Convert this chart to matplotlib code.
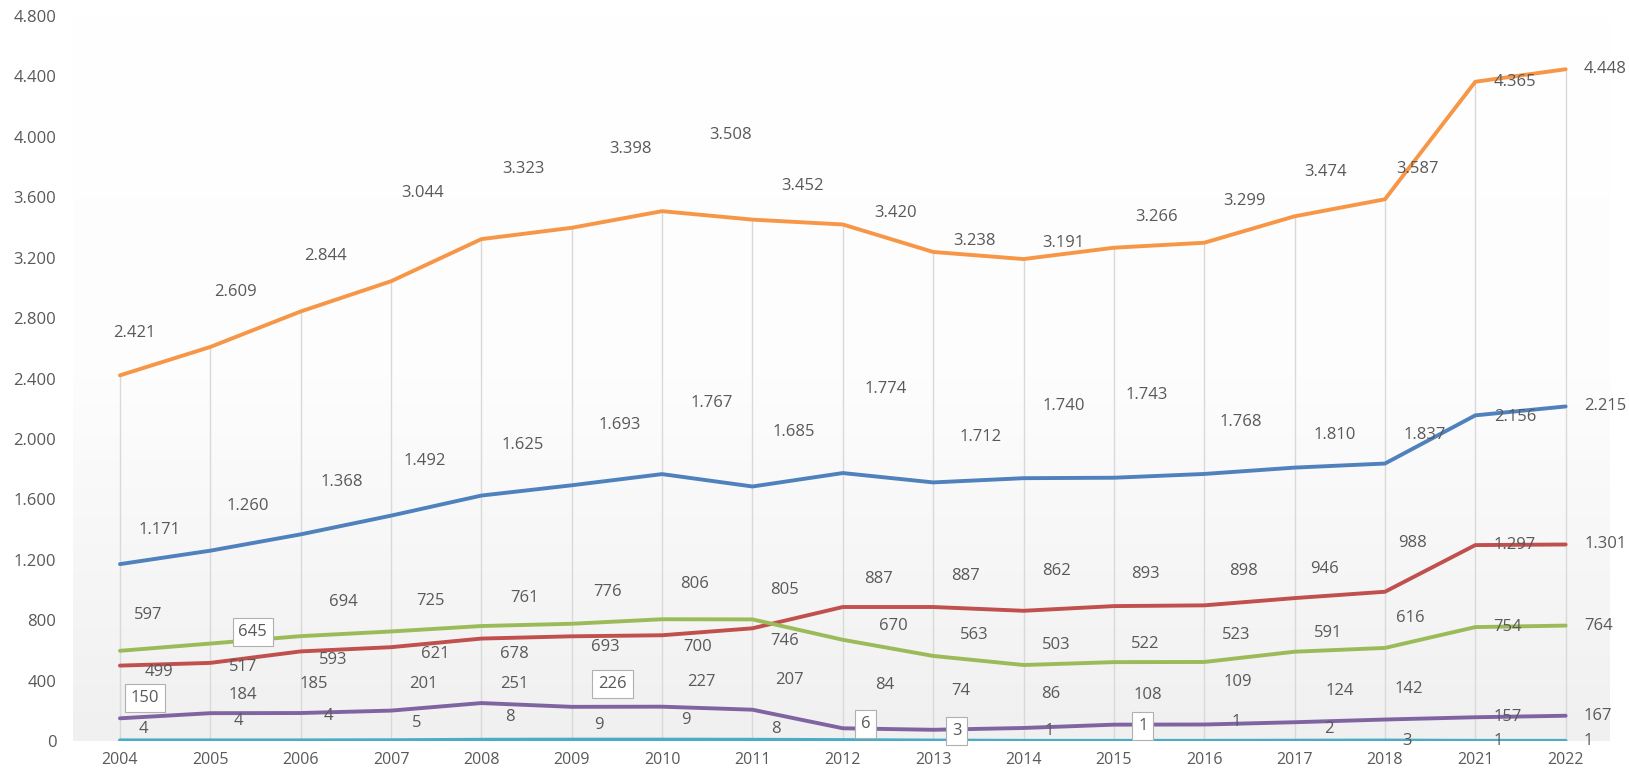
import matplotlib.pyplot as plt
import numpy as np
from matplotlib.colors import LinearSegmentedColormap
from matplotlib.ticker import FuncFormatter

# values per year
years = ['2004', '2005', '2006', '2007', '2008', '2009', '2010', '2011', '2012',
         '2013', '2014', '2015', '2016', '2017', '2018', '2021', '2022']
orange = [2421, 2609, 2844, 3044, 3323, 3398, 3508, 3452, 3420, 3238, 3191, 3266, 3299, 3474, 3587, 4365, 4448]
blue = [1171, 1260, 1368, 1492, 1625, 1693, 1767, 1685, 1774, 1712, 1740, 1743, 1768, 1810, 1837, 2156, 2215]
red = [499, 517, 593, 621, 678, 693, 700, 746, 887, 887, 862, 893, 898, 946, 988, 1297, 1301]
green = [597, 645, 694, 725, 761, 776, 806, 805, 670, 563, 503, 522, 523, 591, 616, 754, 764]
purple = [150, 184, 185, 201, 251, 226, 227, 207, 84, 74, 86, 108, 109, 124, 142, 157, 167]
cyan = [4, 4, 4, 5, 8, 9, 9, 8, 6, 3, 1, 1, 1, 2, 3, 1, 1]

# where the data labels sit relative to their points (category units, value units)
orange_off = [(.16, 281), (.28, 362), (.27, 370), (.35, 585), (.46, 465), (.65, 523), (.76, 503), (.55, 221),
              (.58, 77), (.46, 75), (.44, 107), (.47, 202), (.44, 275), (.34, 292), (.36, 201), (.44, 0), (.44, 0)]
blue_off = [(.44, 227), (.41, 297), (.45, 350), (.37, 363), (.46, 337), (.53, 401), (.55, 471), (.46, 361),
            (.48, 559), (.52, 301), (.44, 480), (.36, 545), (.40, 344), (.44, 218), (.44, 190), (.44, -10), (.44, 0)]
red_off = [(.43, -44), (.36, -28), (.36, -60), (.49, -43), (.36, -100), (.37, -71), (.39, -75), (.36, -81),
           (.39, 188), (.36, 208), (.36, 261), (.35, 215), (.44, 230), (.33, 195), (.31, 324), (.44, 0), (.44, 0)]
green_off = [(.31, 236), (.47, 77), (.47, 224), (.44, 202), (.48, 188), (.40, 208), (.36, 236), (.36, 197),
             (.56, 88), (.45, 139), (.36, 133), (.35, 121), (.35, 179), (.37, 127), (.28, 197), (.36, 0), (.36, 0)]
purple_off = [(.28, 134), (.36, 123), (.14, 193), (.36, 177), (.36, 127), (.45, 152), (.44, 165), (.41, 196),
              (.46, 286), (.31, 258), (.30, 224), (.38, 196), (.37, 283), (.50, 208), (.26, 199), (.36, 0), (.36, 0)]
cyan_off = [(.26, 78), (.31, 129), (.31, 163), (.28, 111), (.32, 152), (.30, 98), (.26, 128), (.26, 74),
            (.25, 105), (.26, 63), (.28, 65), (.32, 96), (.35, 125), (.38, 80), (.24, 0), (.25, 0), (.25, 0)]

series = [
    (orange, '#F79646', orange_off, []),
    (blue, '#4F81BD', blue_off, []),
    (red, '#C0504D', red_off, []),
    (green, '#9BBB59', green_off, [1]),
    (purple, '#8064A2', purple_off, [0, 5]),
    (cyan, '#4BACC6', cyan_off, [8, 9, 11]),
]


def dotted(v, pos=None):
    return f"{int(v):,}".replace(",", ".")


fig = plt.figure(figsize=(16.29, 7.72), dpi=100)
ax = fig.add_axes([0.0448, 0.0402, 0.9435, 0.939])

x = np.arange(len(years))
xmin, xmax = -0.52, len(years) - 0.51

# soft grey gradient behind the plot
grad = LinearSegmentedColormap.from_list('bg', ['#ffffff', '#fdfdfd', '#f0f0f0'])
ax.imshow(np.linspace(0, 1, 256).reshape(-1, 1), cmap=grad, aspect='auto',
          extent=[xmin, xmax, 0, 4800], origin='upper', zorder=0)

# drop lines from the top series
top = np.max([s[0] for s in series], axis=0)
ax.vlines(x, 0, top, color='#d9d9d9', lw=1, zorder=1)

for vals, color, offs, boxed in series:
    ax.plot(x, vals, color=color, lw=2.8, zorder=3, solid_capstyle='round')
    for i, v in enumerate(vals):
        dx, dy = offs[i]
        box = None
        if i in boxed:
            box = dict(boxstyle='square,pad=0.35', fc='white', ec='#b0b0b0', lw=0.8)
        ax.text(i + dx, v + dy, dotted(v), ha='center', va='center', fontsize=12,
                color='#595959', family='Open Sans', bbox=box, zorder=4)

ax.set_xlim(xmin, xmax)
ax.set_ylim(0, 4800)
ax.set_yticks(range(0, 4801, 400))
ax.yaxis.set_major_formatter(FuncFormatter(dotted))
ax.set_xticks(x)
ax.set_xticklabels(years)
ax.tick_params(axis='both', length=0, colors='#595959')
ax.tick_params(axis='y', pad=12, labelsize=12)
ax.tick_params(axis='x', pad=8, labelsize=11.5)
for lab in ax.get_xticklabels() + ax.get_yticklabels():
    lab.set_family('Open Sans')
for sp in ax.spines.values():
    sp.set_visible(False)

fig.savefig('out.png', dpi=100)
